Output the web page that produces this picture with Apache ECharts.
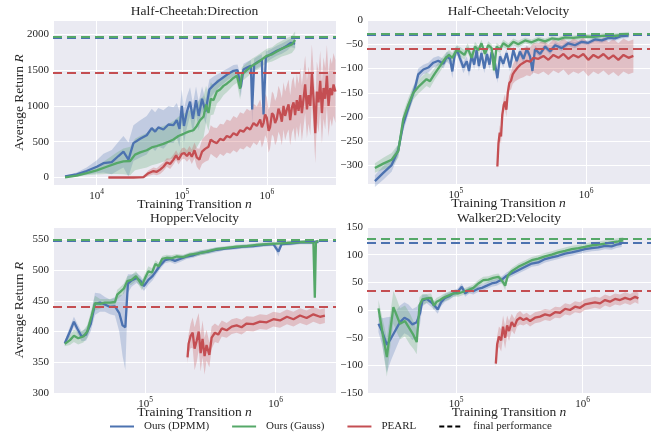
<!DOCTYPE html>
<html><head><meta charset="utf-8">
<script src="https://cdn.jsdelivr.net/npm/echarts@6/dist/echarts.min.js"></script>
<style>html,body{margin:0;padding:0;background:#fff}#c{width:655px;height:434px}</style>
</head><body><div id="c"></div>
<script>
// ---------- DATA : [transitions n, mean return, spread] ----------
const panelTitles = ['Half-Cheetah:Direction', 'Half-Cheetah:Velocity', 'Hopper:Velocity', 'Walker2D:Velocity'];
const seriesNames = ['Ours (DPMM)', 'Ours (Gauss)', 'PEARL'];
const legendFinal = 'final performance';

const hcdDpmm = [[4.24e3,15,10],[5.8e3,45,25],[7.6e3,90,50],[1.0e4,150,90],[1.2e4,200,130],[1.5e4,215,170],[1.8e4,300,200],[2.06e4,360,220],[2.36e4,250,240],[2.7e4,480,250],[3.24e4,540,260],[3.87e4,590,270],[4.43e4,690,270],[4.86e4,640,270],[5.3e4,700,270],[6.08e4,670,270],[6.97e4,740,260],[7.98e4,730,250],[8.73e4,800,240],[9.4e4,680,250],[1.0e5,1000,230],[1.06e5,720,240],[1.15e5,920,220],[1.25e5,1060,200],[1.35e5,820,210],[1.47e5,1080,190],[1.58e5,860,200],[1.73e5,1100,170],[1.9e5,920,170],[2.11e5,1230,140],[2.36e5,1290,120],[2.7e5,1350,100],[3.09e5,1400,90],[3.54e5,1450,80],[4.05e5,1490,80],[4.52e5,1500,80],[4.94e5,1260,140],[5.31e5,1510,80],[5.93e5,1540,80],[6.49e5,1560,80],[6.72e5,950,200],[7.09e5,1580,80],[7.98e5,1620,80],[8.73e5,1640,80],[9.14e5,880,200],[9.73e5,1680,80],[1.11e6,1720,70],[1.31e6,1770,70],[1.5e6,1800,70],[1.72e6,1840,70],[1.91e6,1880,60],[2.15e6,1870,60]];
const hcdGauss = [[4.24e3,3,8],[5.8e3,25,15],[7.6e3,60,30],[1.0e4,100,60],[1.31e4,150,100],[1.72e4,200,150],[2.06e4,225,180],[2.47e4,230,200],[2.82e4,320,220],[3.24e4,350,230],[3.87e4,380,240],[4.43e4,420,250],[5.08e4,440,250],[6.08e4,470,250],[6.97e4,500,250],[7.98e4,530,260],[9.14e4,580,270],[1.05e5,610,280],[1.2e5,640,290],[1.37e5,660,300],[1.5e5,720,300],[1.64e5,800,300],[1.8e5,850,290],[1.93e5,1020,260],[2.06e5,900,250],[2.19e5,1100,230],[2.36e5,1080,200],[2.58e5,1200,170],[2.82e5,1230,150],[3.09e5,1280,130],[3.38e5,1310,120],[3.71e5,1350,110],[4.05e5,1390,100],[4.44e5,1420,100],[4.85e5,1240,150],[5.08e5,1440,100],[5.82e5,1500,100],[6.67e5,1560,100],[7.62e5,1600,100],[8.73e5,1650,100],[1.0e6,1700,100],[1.15e6,1720,100],[1.31e6,1760,110],[1.5e6,1800,110],[1.72e6,1830,120],[1.97e6,1860,120],[2.15e6,1920,120]];
const hcdPearl = [[1.37e4,0,8],[1.88e4,0,8],[2.7e4,0,10],[3.54e4,5,15],[4.05e4,60,40],[4.64e4,90,50],[5.08e4,80,50],[5.56e4,110,60],[6.08e4,150,60],[6.66e4,210,60],[7.3e4,190,70],[7.98e4,250,70],[8.57e4,310,70],[9.14e4,250,70],[1.0e5,330,80],[1.07e5,340,80],[1.15e5,300,80],[1.23e5,350,90],[1.31e5,290,100],[1.41e5,380,110],[1.5e5,280,130],[1.61e5,250,150],[1.73e5,360,170],[1.88e5,400,180],[2.06e5,430,190],[2.19e5,530,200],[2.36e5,500,200],[2.58e5,480,210],[2.82e5,540,210],[3.09e5,520,220],[3.38e5,580,230],[3.71e5,560,230],[4.05e5,620,240],[4.44e5,590,240],[4.85e5,660,250],[5.31e5,640,250],[5.82e5,700,260],[6.37e5,670,260],[6.97e5,760,270],[7.62e5,720,270],[8.35e5,810,280],[8.73e5,700,280],[9.14e5,760,280],[9.55e5,880,290],[1.0e6,830,290],[1.05e6,650,300],[1.09e6,700,300],[1.15e6,900,300],[1.2e6,870,300],[1.25e6,760,310],[1.31e6,820,310],[1.37e6,960,320],[1.43e6,900,320],[1.5e6,780,330],[1.57e6,1000,330],[1.64e6,860,340],[1.72e6,950,340],[1.8e6,1020,350],[1.88e6,800,350],[1.97e6,980,360],[2.06e6,1050,360],[2.15e6,870,370],[2.25e6,1080,370],[2.36e6,930,380],[2.47e6,1150,380],[2.58e6,900,390],[2.7e6,1100,390],[2.82e6,1300,400],[2.96e6,950,400],[3.09e6,1150,400],[3.24e6,1000,410],[3.38e6,1450,410],[3.54e6,1100,410],[3.71e6,620,420],[3.87e6,1200,420],[4.05e6,1050,420],[4.24e6,1350,420],[4.44e6,900,430],[4.64e6,1250,430],[4.85e6,1100,430],[5.08e6,1420,430],[5.31e6,1000,430],[5.56e6,1250,430],[5.82e6,1150,440],[6.08e6,1300,440],[6.4e6,1200,440]];

const hcvDpmm = [[2.38e4,-332,12],[2.76e4,-315,14],[3.2e4,-299,14],[3.6e4,-268,12],[3.93e4,-215,14],[4.18e4,-192,14],[4.57e4,-160,12],[4.84e4,-140,12],[5.13e4,-112,12],[5.61e4,-102,10],[6.13e4,-98,10],[6.7e4,-88,10],[7.31e4,-84,10],[8.0e4,-90,10],[8.48e4,-76,10],[9.0e4,-80,12],[9.37e4,-106,14],[9.8e4,-70,10],[1.02e5,-62,10],[1.07e5,-78,10],[1.14e5,-98,12],[1.21e5,-85,10],[1.26e5,-105,12],[1.32e5,-72,10],[1.38e5,-92,10],[1.44e5,-62,10],[1.5e5,-95,10],[1.57e5,-68,10],[1.65e5,-100,10],[1.73e5,-70,10],[1.81e5,-92,10],[1.88e5,-66,8],[1.97e5,-80,8],[2.08e5,-120,10],[2.18e5,-75,8],[2.31e5,-90,8],[2.45e5,-68,8],[2.6e5,-98,8],[2.76e5,-62,8],[2.93e5,-85,8],[3.1e5,-65,8],[3.3e5,-80,8],[3.5e5,-60,8],[3.71e5,-75,8],[3.87e5,-105,8],[4.05e5,-60,7],[4.43e5,-70,7],[4.84e5,-55,6],[5.29e5,-65,6],[5.78e5,-52,6],[6.5e5,-58,6],[7.31e5,-48,6],[8.22e5,-52,6],[9.26e5,-45,5],[1.04e6,-47,5],[1.17e6,-40,5],[1.32e6,-42,5],[1.49e6,-37,5],[1.67e6,-38,5],[1.88e6,-33,5],[2.12e6,-32,5]];
const hcvGauss = [[2.38e4,-305,10],[2.76e4,-296,12],[3.2e4,-288,14],[3.6e4,-270,14],[3.93e4,-205,14],[4.3e4,-175,14],[4.7e4,-150,14],[5.13e4,-138,14],[5.61e4,-128,14],[5.94e4,-122,14],[6.31e4,-126,14],[6.89e4,-110,12],[7.53e4,-95,12],[8.22e4,-80,10],[8.83e4,-72,10],[9.37e4,-78,10],[1.01e5,-62,10],[1.07e5,-65,10],[1.16e5,-72,10],[1.23e5,-58,10],[1.32e5,-78,10],[1.4e5,-55,10],[1.49e5,-62,8],[1.57e5,-48,8],[1.67e5,-70,8],[1.77e5,-52,8],[1.88e5,-58,8],[1.96e5,-104,10],[2.05e5,-55,8],[2.18e5,-60,8],[2.31e5,-48,8],[2.53e5,-55,7],[2.76e5,-45,7],[3.01e5,-50,7],[3.4e5,-42,6],[3.82e5,-46,6],[4.3e5,-40,6],[4.84e5,-44,6],[5.45e5,-38,5],[6.13e5,-40,5],[6.89e5,-36,5],[8.0e5,-37,5],[9.82e5,-34,5],[1.14e6,-35,5],[1.4e6,-32,5],[1.62e6,-33,5],[2.0e6,-30,5],[2.14e6,-29,5]];
const hcvPearl = [[2.08e5,-302,8],[2.12e5,-255,14],[2.17e5,-232,15],[2.22e5,-240,15],[2.27e5,-195,15],[2.33e5,-175,15],[2.38e5,-168,15],[2.44e5,-185,15],[2.5e5,-150,15],[2.57e5,-130,15],[2.65e5,-125,18],[2.73e5,-112,20],[2.84e5,-105,22],[2.98e5,-98,25],[3.13e5,-92,28],[3.3e5,-88,30],[3.5e5,-84,30],[3.71e5,-86,30],[3.94e5,-78,30],[4.3e5,-80,32],[4.7e5,-74,32],[5.13e5,-82,32],[5.61e5,-72,32],[6.13e5,-78,32],[6.7e5,-70,32],[7.31e5,-80,34],[8.0e5,-72,34],[8.73e5,-77,34],[9.53e5,-70,34],[1.04e6,-82,34],[1.14e6,-72,34],[1.24e6,-78,34],[1.36e6,-70,34],[1.49e6,-80,34],[1.62e6,-73,34],[1.77e6,-82,34],[1.94e6,-72,34],[2.12e6,-78,34],[2.31e6,-74,34]];

const hvDpmm = [[2.39e4,381,4],[2.62e4,400,8],[2.81e4,416,8],[2.98e4,405,8],[3.22e4,392,8],[3.48e4,395,10],[3.78e4,412,12],[4.08e4,445,18],[4.46e4,447,15],[4.87e4,444,12],[5.32e4,440,12],[5.81e4,441,15],[6.27e4,430,30],[6.65e4,410,50],[6.98e4,407,70],[7.31e4,478,15],[7.8e4,483,10],[8.53e4,487,8],[9.16e4,482,8],[9.7e4,474,8],[1.05e5,484,8],[1.13e5,490,7],[1.22e5,500,6],[1.3e5,508,6],[1.41e5,516,5],[1.54e5,518,5],[1.68e5,515,5],[1.84e5,518,5],[2.07e5,522,4],[2.33e5,524,4],[2.62e5,528,4],[3.03e5,530,4],[3.52e5,533,4],[4.07e5,535,3],[4.72e5,536,3],[5.64e5,538,3],[6.73e5,539,3],[8.04e5,541,3],[9.6e5,542,3],[1.05e6,530,8],[1.11e6,542,3],[1.29e6,543,3],[1.54e6,545,3],[1.84e6,545,3],[2.13e6,546,3]];
const hvGauss = [[2.39e4,380,4],[2.62e4,386,8],[2.81e4,393,10],[3.03e4,389,10],[3.32e4,392,10],[3.56e4,400,10],[3.84e4,425,12],[4.08e4,446,12],[4.46e4,445,8],[4.87e4,447,6],[5.32e4,447,6],[5.81e4,448,6],[6.05e4,460,8],[6.42e4,465,8],[6.81e4,470,8],[7.22e4,482,8],[7.8e4,484,8],[8.43e4,490,8],[8.94e4,482,8],[9.37e4,475,8],[9.95e4,488,8],[1.05e5,498,8],[1.12e5,496,7],[1.19e5,510,6],[1.26e5,506,6],[1.34e5,518,5],[1.45e5,520,5],[1.58e5,519,5],[1.73e5,522,4],[1.95e5,521,4],[2.19e5,525,4],[2.54e5,527,4],[2.94e5,530,4],[3.52e5,534,3],[4.2e5,536,3],[5.01e5,538,3],[5.98e5,539,3],[7.14e5,541,3],[8.53e5,542,3],[1.02e6,543,3],[1.22e6,544,3],[1.45e6,545,3],[1.73e6,546,3],[1.95e6,545,3],[2.0e6,455,3],[2.04e6,546,3],[2.13e6,547,3]];
const hvPearl = [[2.1e5,358,10],[2.14e5,380,15],[2.22e5,393,20],[2.3e5,398,25],[2.38e5,372,35],[2.47e5,385,35],[2.56e5,400,30],[2.65e5,365,30],[2.74e5,388,30],[2.84e5,360,30],[2.94e5,378,25],[3.09e5,362,20],[3.22e5,390,18],[3.41e5,398,15],[3.62e5,395,14],[3.85e5,405,13],[4.2e5,402,12],[4.59e5,408,12],[5.01e5,410,12],[5.47e5,407,12],[5.98e5,413,12],[6.73e5,412,12],[7.57e5,416,12],[8.53e5,415,12],[9.6e5,420,12],[1.08e6,418,12],[1.22e6,424,12],[1.37e6,420,12],[1.54e6,426,12],[1.73e6,422,12],[1.95e6,428,12],[2.19e6,424,12],[2.39e6,426,12]];

const wvDpmm = [[2.44e4,-25,15],[2.62e4,-40,25],[2.84e4,-63,50],[3.05e4,-52,40],[3.3e4,-38,35],[3.61e4,-22,30],[3.91e4,-14,28],[4.21e4,-18,28],[4.52e4,-26,28],[4.89e4,-22,28],[5.2e4,-5,20],[5.42e4,17,10],[5.86e4,20,8],[6.35e4,14,8],[6.75e4,8,8],[7.16e4,1,8],[7.62e4,14,7],[8.19e4,22,7],[8.81e4,25,7],[9.53e4,30,6],[1.03e5,33,6],[1.11e5,42,6],[1.18e5,30,6],[1.27e5,36,6],[1.37e5,34,6],[1.48e5,38,6],[1.6e5,40,6],[1.75e5,44,6],[1.91e5,48,6],[2.09e5,50,6],[2.3e5,55,6],[2.51e5,62,6],[2.75e5,66,6],[3.1e5,72,6],[3.51e5,78,6],[3.96e5,84,6],[4.46e5,86,6],[5.04e5,92,6],[5.69e5,95,6],[6.43e5,98,6],[7.26e5,102,6],[8.19e5,104,6],[9.25e5,107,6],[1.04e6,110,6],[1.18e6,112,6],[1.33e6,113,6],[1.5e6,116,6],[1.69e6,115,6],[1.85e6,118,6],[2.03e6,120,6]];
const wvGauss = [[2.44e4,3,15],[2.62e4,-40,25],[2.84e4,-85,35],[3.05e4,-30,30],[3.2e4,5,30],[3.4e4,-10,30],[3.61e4,-25,28],[3.95e4,-20,28],[4.33e4,-35,28],[4.6e4,-45,25],[4.89e4,-58,22],[5.14e4,8,15],[5.42e4,19,10],[5.86e4,21,8],[6.35e4,22,8],[6.67e4,8,8],[7.03e4,15,7],[7.48e4,18,7],[7.94e4,22,7],[8.69e4,26,7],[9.53e4,30,6],[1.04e5,30,6],[1.14e5,33,6],[1.25e5,36,6],[1.37e5,40,6],[1.5e5,48,6],[1.64e5,54,6],[1.8e5,55,6],[1.97e5,58,6],[2.16e5,60,6],[2.32e5,52,6],[2.44e5,44,8],[2.56e5,62,6],[2.75e5,70,6],[3.1e5,78,6],[3.51e5,84,6],[3.96e5,90,6],[4.46e5,93,6],[5.04e5,97,6],[5.69e5,100,6],[6.43e5,104,6],[7.26e5,107,6],[8.19e5,110,6],[9.25e5,112,6],[1.04e6,114,6],[1.18e6,117,6],[1.33e6,118,6],[1.5e6,120,6],[1.69e6,122,6],[1.91e6,124,6],[2.09e6,126,6]];
const wvPearl = [[2.06e5,-97,8],[2.11e5,-62,15],[2.18e5,-48,18],[2.27e5,-55,20],[2.35e5,-30,20],[2.44e5,-50,20],[2.53e5,-28,18],[2.62e5,-38,18],[2.75e5,-22,15],[2.89e5,-30,14],[3.03e5,-18,12],[3.2e5,-14,12],[3.4e5,-18,10],[3.61e5,-15,10],[3.84e5,-20,10],[4.2e5,-14,10],[4.6e5,-12,10],[5.04e5,-8,10],[5.52e5,-10,10],[6.05e5,-4,10],[6.62e5,-5,10],[7.26e5,2,10],[7.94e5,0,10],[8.69e5,6,10],[9.53e5,4,10],[1.04e6,10,10],[1.14e6,12,10],[1.25e6,14,10],[1.37e6,12,10],[1.5e6,18,10],[1.64e6,15,10],[1.8e6,20,10],[1.97e6,18,10],[2.16e6,22,10],[2.37e6,19,10],[2.59e6,24,10],[2.75e6,21,10]];

// final performance per panel: [DPMM, Gauss, PEARL]
const finalHcd = [1955, 1962, 1460];
const finalHcv = [-30, -29, -60];
const finalHv = [547, 549, 440];
const finalWv = [122, 128, 34];

// axis ranges per panel
const xMin = [3.06e3, 2.07e4, 1.94e4, 1.98e4];
const xMax = [6.5e6, 3.1e6, 2.91e6, 3.46e6];
const yMin = [-105, -338, 300, -150];
const yMax = [2200, 0, 570, 150];
const yStep = [500, 50, 50, 50];

// ---------- CHART ----------
const FONT = 'Liberation Serif';
const TXT = '#262626';
const colors = ['#4C72B0', '#55A868', '#C44E52'];
const bandColors = ['rgba(76,114,176,0.26)', 'rgba(85,168,104,0.26)', 'rgba(196,78,82,0.28)'];
const panels = [
  [hcdDpmm, hcdGauss, hcdPearl, finalHcd],
  [hcvDpmm, hcvGauss, hcvPearl, finalHcv],
  [hvDpmm, hvGauss, hvPearl, finalHv],
  [wvDpmm, wvGauss, wvPearl, finalWv]
];
const grids = [
  {left: 53, top: 20, width: 283, height: 165},
  {left: 367, top: 20, width: 283, height: 164},
  {left: 53, top: 227, width: 283, height: 166},
  {left: 367, top: 227, width: 284, height: 166}
].map(g => Object.assign(g, {show: true, backgroundColor: '#EAEAF2', borderWidth: 0}));

function bandRenderer(color) {
  return function (params, api) {
    if (params.dataIndexInside !== 0) return null;
    const n = params.dataInsideLength;
    const up = [], lo = [];
    for (let i = 0; i < n; i++) {
      up.push(api.coord([api.value(0, i), api.value(2, i)]));
      lo.push(api.coord([api.value(0, i), api.value(1, i)]));
    }
    return {type: 'polygon', shape: {points: up.concat(lo.reverse())},
      style: {fill: color, stroke: null}, silent: true};
  };
}

const xAxes = [], yAxes = [], series = [], titles = [];
for (let p = 0; p < 4; p++) {
  xAxes.push({
    type: 'log', logBase: 10, gridIndex: p, min: xMin[p], max: xMax[p],
    axisLine: {show: false}, axisTick: {show: false},
    splitLine: {show: true, lineStyle: {color: '#ffffff', width: 1}},
    minorSplitLine: {show: false},
    axisLabel: {
      margin: 3, showMinLabel: false, showMaxLabel: false,
      formatter: v => { const e = Math.log10(v); const r = Math.round(e); return Math.abs(e - r) > 1e-6 ? '' : '{b|10}{s|' + r + '}'; },
      rich: {b: {fontFamily: FONT, fontSize: 11, color: TXT, lineHeight: 14, verticalAlign: 'bottom'},
             s: {fontFamily: FONT, fontSize: 7.5, color: TXT, lineHeight: 14, verticalAlign: 'top'}}
    },
    name: 'Training Transition {i|n}', nameLocation: 'middle', nameGap: 12, nameMoveOverlap: false,
    nameTextStyle: {fontFamily: FONT, fontSize: 13.5, color: TXT, verticalAlign: 'top',
      rich: {i: {fontFamily: FONT, fontSize: 13.5, fontStyle: 'italic', color: TXT}}}
  });
  const step = yStep[p];
  const ya = {
    type: 'value', gridIndex: p, min: yMin[p], max: yMax[p],
    axisLine: {show: false}, axisTick: {show: false},
    splitLine: {show: true, lineStyle: {color: '#ffffff', width: 1}},
    axisLabel: {
      margin: 4, fontFamily: FONT, fontSize: 11, color: TXT,
      formatter: v => { const r = Math.round(v / step) * step; return Math.abs(v - r) > 1e-6 ? '' : String(r).replace('-', '\u2212'); }
    }
  };
  if (p === 0 || p === 2) {
    Object.assign(ya, {name: 'Average Return {i|R}', nameLocation: 'middle', nameGap: 27, nameMoveOverlap: false,
      nameTextStyle: {fontFamily: FONT, fontSize: 13.5, color: TXT,
        rich: {i: {fontFamily: FONT, fontSize: 13.5, fontStyle: 'italic', color: TXT}}}});
  }
  yAxes.push(ya);
  const g = grids[p];
  titles.push({text: panelTitles[p], left: g.left + g.width / 2, top: p < 2 ? 4 : 211, textAlign: 'center', padding: 0,
    textStyle: {fontFamily: FONT, fontSize: 13.5, fontWeight: 'normal', color: TXT}});

  // bands first
  for (let s = 0; s < 3; s++) {
    const d = panels[p][s];
    series.push({type: 'custom', xAxisIndex: p, yAxisIndex: p, silent: true, z: 1,
      renderItem: bandRenderer(bandColors[s]),
      encode: {x: 0, y: [1, 2]},
      data: d.map(q => [q[0], q[1] - q[2], q[1] + q[2]])});
  }
  // mean lines with final performance
  for (let s = 0; s < 3; s++) {
    const d = panels[p][s];
    series.push({type: 'line', name: seriesNames[s], xAxisIndex: p, yAxisIndex: p, symbol: 'none',
      color: colors[s], lineStyle: {color: colors[s], width: 2.3}, z: 3 + s,
      data: d.map(q => [q[0], q[1]]),
      markLine: {silent: true, symbol: 'none', label: {show: false},
        lineStyle: {color: colors[s], width: 2.2, type: [9, 5]},
        data: [{yAxis: panels[p][3][s]}]}});
  }
}
series.push({type: 'line', name: legendFinal, xAxisIndex: 0, yAxisIndex: 0, data: [], symbol: 'none',
  color: '#000', lineStyle: {color: '#000', width: 2.3, type: [5, 3]}});

const chart = echarts.init(document.getElementById('c'), null, {renderer: 'canvas'});
chart.setOption({
  animation: false,
  backgroundColor: '#ffffff',
  title: titles,
  grid: grids,
  xAxis: xAxes,
  yAxis: yAxes,
  legend: {data: seriesNames.concat([legendFinal]), left: 104, top: 416, itemWidth: 24, itemHeight: 8, itemGap: 22,
    itemStyle: {opacity: 0},
    textStyle: {fontFamily: FONT, fontSize: 11, color: TXT, padding: [0, 0, 0, 5]}},
  series: series
});
</script></body></html>
